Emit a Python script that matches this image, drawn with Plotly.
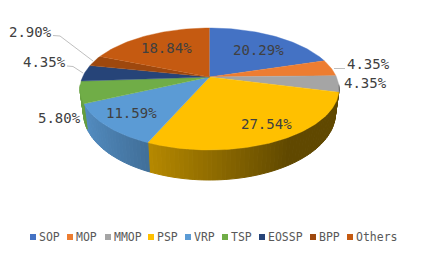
import math
import plotly.graph_objects as go

categories = ["SOP", "MOP", "MMOP", "PSP", "VRP", "TSP", "EOSSP", "BPP", "Others"]
shares = [20.29, 4.35, 4.35, 27.54, 11.59, 5.80, 4.35, 2.90, 18.84]
labels = ["20.29%", "4.35%", "4.35%", "27.54%", "11.59%", "5.80%", "4.35%", "2.90%", "18.84%"]
colors = ["#4472C4", "#ED7D31", "#A5A5A5", "#FFC000", "#5B9BD5", "#70AD47", "#264478", "#9E480E", "#C55A11"]

W, H = 423, 254
CX = 209.5
TOP = dict(cy=89.0, rx=129.5, ry=61.0)
BOT = dict(cy=113.0, rx=126.0, ry=67.0)
K = -12.0 / 61.0
FONT = "DejaVu Sans Mono"


def project(theta, r, e):
    u, v = r * math.sin(theta), -r * math.cos(theta)
    w = 1 + K * v
    c = e["rx"] * math.sqrt(1 - K * K)
    return CX + c * u / w, e["cy"] + e["ry"] * (v + K) / w


def hex_rgb(h):
    return [int(h[i:i + 2], 16) for i in (1, 3, 5)]


def side_color(h, theta):
    # light falls from the left: darkest towards the right of the front
    f = max(0.38, 0.57 - 0.37 * math.sin(theta))
    return "rgb(%d,%d,%d)" % tuple(int(c * f) for c in hex_rgb(h))


total = sum(shares)
edges = [0.0]
for s in shares:
    edges.append(edges[-1] + s / total * 2 * math.pi)

fig = go.Figure()

# rim, as thin strips so that it can shade; only the front half is ever visible
for i, col in enumerate(colors):
    a0, a1 = edges[i], edges[i + 1]
    n = max(2, int((a1 - a0) / 0.03))
    for j in range(n):
        t0 = a0 + (a1 - a0) * j / n
        t1 = a0 + (a1 - a0) * (j + 1) / n
        if math.cos((t0 + t1) / 2) > -0.12:
            continue
        p = [project(t0, 1, TOP), project(t1, 1, TOP), project(t1, 1, BOT), project(t0, 1, BOT), project(t0, 1, TOP)]
        shade = side_color(col, (t0 + t1) / 2)
        fig.add_trace(go.Scatter(
            x=[q[0] for q in p], y=[q[1] for q in p], mode="lines", fill="toself",
            fillcolor=shade, line=dict(width=1, color=shade),
            hoverinfo="skip", showlegend=False))

# top face
for i, col in enumerate(colors):
    a0, a1 = edges[i], edges[i + 1]
    n = max(8, int((a1 - a0) / 0.02))
    pts = [project(0, 0, TOP)] + [project(a0 + (a1 - a0) * j / n, 1, TOP) for j in range(n + 1)]
    fig.add_trace(go.Scatter(
        x=[q[0] for q in pts], y=[q[1] for q in pts], mode="lines", fill="toself",
        fillcolor=col, line=dict(width=0.4, color=col), name=categories[i],
        hoverinfo="name", showlegend=False))

# leader lines
for xs, ys in [((53, 60, 93), (35.5, 36, 61)), ((67, 73, 83), (66, 66.5, 73)), ((334, 345), (68.5, 68.5))]:
    fig.add_trace(go.Scatter(x=list(xs), y=list(ys), mode="lines",
                             line=dict(color="#BFBFBF", width=1), hoverinfo="skip", showlegend=False))

# data labels
label_pos = [(258, 50), (368, 64), (365.5, 83), (266, 124), (131.5, 113), (59, 118), (44, 62), (30, 32), (166, 48)]
for t, (x, y) in zip(labels, label_pos):
    fig.add_annotation(x=x, y=y, text=t, showarrow=False, xanchor="center", yanchor="middle",
                       font=dict(family=FONT, size=14, color="#404040"))

# legend row
legend_x = [33, 70, 108, 151, 188, 225, 262, 313, 350]
for name, col, x in zip(categories, colors, legend_x):
    fig.add_trace(go.Scatter(x=[x], y=[237], mode="markers", name=name,
                             marker=dict(symbol="square", size=6, color=col),
                             hoverinfo="name", showlegend=False))
    fig.add_annotation(x=x + 4.5, y=237, text=name, showarrow=False, xanchor="left", yanchor="middle",
                       xshift=-1, font=dict(family=FONT, size=11.5, color="#595959"))

fig.update_layout(
    width=W, height=H, margin=dict(l=0, r=0, t=0, b=0),
    paper_bgcolor="white", plot_bgcolor="white", showlegend=False,
    xaxis=dict(range=[0, W], visible=False, fixedrange=True),
    yaxis=dict(range=[H, 0], visible=False, fixedrange=True),
)
fig.write_html("out.html", config={"displayModeBar": False},
               post_script="document.body.style.margin='0';document.body.style.overflow='hidden';")
